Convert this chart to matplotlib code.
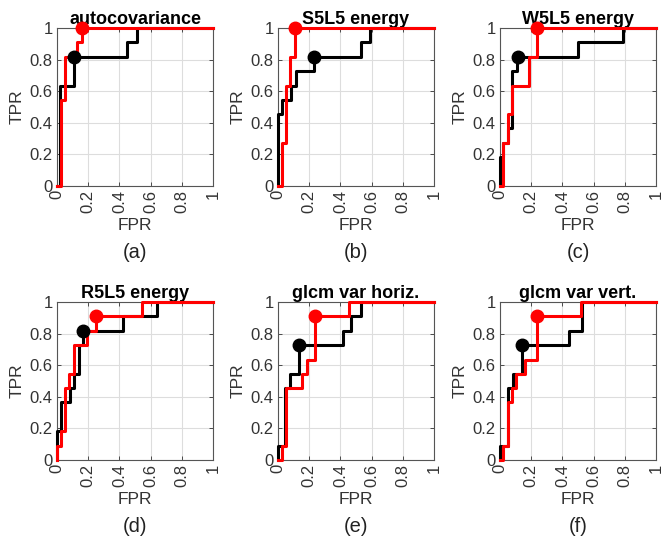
import matplotlib
matplotlib.use("Agg")
import matplotlib.pyplot as plt

plt.rcParams['font.family'] = ['Liberation Sans', 'DejaVu Sans']

titles = ['autocovariance', 'S5L5 energy', 'W5L5 energy',
          'R5L5 energy', 'glcm var horiz.', 'glcm var vert.']
letters = ['(a)', '(b)', '(c)', '(d)', '(e)', '(f)']

# ROC vertices (FPR, TPR), black = first classifier, red = second
black_fpr = [
    [0, 0.02, 0.02, 0.02, 0.11, 0.11, 0.45, 0.45, 0.51, 0.51, 1],
    [0, 0, 0.027, 0.027, 0.085, 0.085, 0.116, 0.116, 0.228, 0.228, 0.535, 0.535, 0.59, 0.59, 1],
    [0, 0, 0.02, 0.02, 0.053, 0.053, 0.077, 0.077, 0.107, 0.107, 0.5, 0.5, 0.786, 0.786, 1],
    [0, 0, 0.028, 0.028, 0.085, 0.085, 0.106, 0.106, 0.142, 0.142, 0.166, 0.166, 0.42, 0.42, 0.64, 0.64, 1],
    [0, 0, 0.045, 0.045, 0.074, 0.074, 0.134, 0.134, 0.414, 0.414, 0.47, 0.47, 0.53, 0.53, 1],
    [0, 0, 0.05, 0.05, 0.083, 0.083, 0.138, 0.138, 0.443, 0.443, 0.523, 0.523, 1],
]
black_tpr = [
    [0, 0, 0.545, 0.636, 0.636, 0.818, 0.818, 0.909, 0.909, 1, 1],
    [0, 0.455, 0.455, 0.545, 0.545, 0.636, 0.636, 0.727, 0.727, 0.818, 0.818, 0.909, 0.909, 1, 1],
    [0, 0.182, 0.182, 0.273, 0.273, 0.364, 0.364, 0.727, 0.727, 0.818, 0.818, 0.909, 0.909, 1, 1],
    [0, 0.182, 0.182, 0.364, 0.364, 0.455, 0.455, 0.545, 0.545, 0.727, 0.727, 0.818, 0.818, 0.909, 0.909, 1, 1],
    [0, 0.091, 0.091, 0.455, 0.455, 0.545, 0.545, 0.727, 0.727, 0.818, 0.818, 0.909, 0.909, 1, 1],
    [0, 0.091, 0.091, 0.455, 0.455, 0.545, 0.545, 0.727, 0.727, 0.818, 0.818, 1, 1],
]
red_fpr = [
    [0, 0.025, 0.025, 0.053, 0.053, 0.13, 0.13, 0.16, 0.16, 1],
    [0, 0.025, 0.025, 0.053, 0.053, 0.074, 0.074, 0.112, 0.112, 1],
    [0, 0.02, 0.02, 0.053, 0.053, 0.077, 0.077, 0.184, 0.184, 0.24, 0.24, 1],
    [0, 0, 0.025, 0.025, 0.05, 0.05, 0.08, 0.08, 0.106, 0.106, 0.195, 0.195, 0.25, 0.25, 0.547, 0.547, 1],
    [0, 0.023, 0.023, 0.05, 0.05, 0.155, 0.155, 0.183, 0.183, 0.24, 0.24, 0.456, 0.456, 1],
    [0, 0.02, 0.02, 0.053, 0.053, 0.078, 0.078, 0.104, 0.104, 0.163, 0.163, 0.237, 0.237, 0.52, 0.52, 1],
]
red_tpr = [
    [0, 0, 0.545, 0.545, 0.818, 0.818, 0.909, 0.909, 1, 1],
    [0, 0, 0.273, 0.273, 0.636, 0.636, 0.818, 0.818, 1, 1],
    [0, 0, 0.273, 0.273, 0.455, 0.455, 0.636, 0.636, 0.818, 0.818, 1, 1],
    [0, 0.091, 0.091, 0.182, 0.182, 0.455, 0.455, 0.545, 0.545, 0.727, 0.727, 0.818, 0.818, 0.909, 0.909, 1, 1],
    [0, 0, 0.091, 0.091, 0.455, 0.455, 0.545, 0.545, 0.636, 0.636, 0.909, 0.909, 1, 1],
    [0, 0, 0.091, 0.091, 0.364, 0.364, 0.455, 0.455, 0.545, 0.545, 0.636, 0.636, 0.909, 0.909, 1, 1],
]
# operating points
black_pt = [(0.11, 0.818), (0.228, 0.818), (0.113, 0.818), (0.166, 0.818), (0.134, 0.727), (0.138, 0.727)]
red_pt = [(0.16, 1), (0.112, 1), (0.24, 1), (0.25, 0.909), (0.24, 0.909), (0.237, 0.909)]

ticks = [0, 0.2, 0.4, 0.6, 0.8, 1]
tick_labels = ['0', '0.2', '0.4', '0.6', '0.8', '1']

fig = plt.figure(figsize=(6.62, 5.37), dpi=100)
W, H = 662.0, 537.0
lefts = [57, 278, 500]
tops = [28, 302]
aw, ah = 156, 158

for i in range(6):
    r, c = divmod(i, 3)
    ax = fig.add_axes([lefts[c] / W, 1 - (tops[r] + ah) / H, aw / W, ah / H])
    ax.plot(black_fpr[i], black_tpr[i], color='black', lw=2.2, clip_on=False, zorder=3)
    ax.plot(red_fpr[i], red_tpr[i], color='red', lw=2.2, clip_on=False, zorder=4)
    ax.plot(*black_pt[i], 'o', color='black', ms=9, clip_on=False, zorder=5)
    ax.plot(*red_pt[i], 'o', color='red', ms=9, clip_on=False, zorder=6)

    ax.set_xlim(0, 1)
    ax.set_ylim(0, 1)
    ax.set_xticks(ticks)
    ax.set_yticks(ticks)
    ax.set_xticklabels(tick_labels, rotation=90)
    ax.set_yticklabels(tick_labels)
    ax.tick_params(direction='in', length=3, width=0.6, labelsize=12,
                   labelcolor='#333333', color='#333333', pad=3,
                   top=True, right=True)
    ax.grid(True, color='#dddddd', lw=0.8)
    ax.set_axisbelow(True)
    for s in ax.spines.values():
        s.set_color('#555555')
        s.set_linewidth(0.8)

    ax.set_title(titles[i], fontsize=13, fontweight='bold', pad=3)
    ax.set_xlabel('FPR', fontsize=12.5, color='#333333')
    ax.xaxis.set_label_coords(0.5, -0.2)
    ax.set_ylabel('TPR', fontsize=12.5, color='#333333')
    ax.yaxis.set_label_coords(-0.205, 0.5)
    ax.text(0.5, -0.42, letters[i], transform=ax.transAxes, ha='center',
            va='center', fontsize=14.5, color='#222222')

fig.savefig('out.png', dpi=100)
